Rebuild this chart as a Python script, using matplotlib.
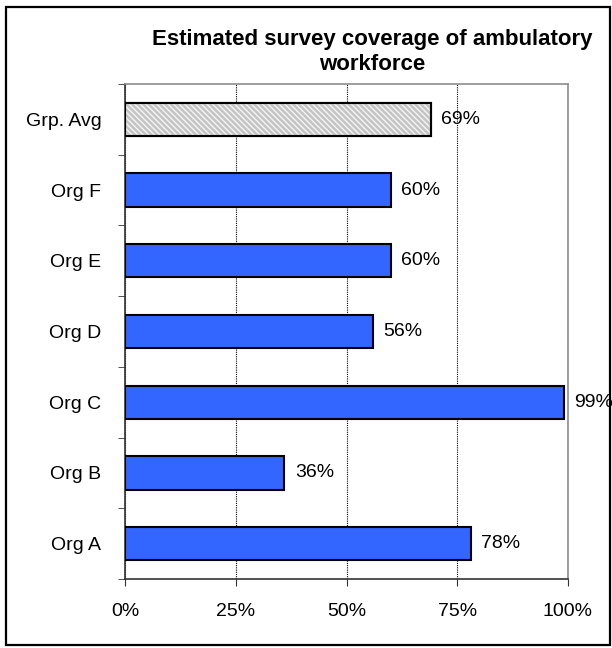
import matplotlib.pyplot as plt
from matplotlib.patches import Rectangle

plt.rcParams['font.family'] = ['Liberation Sans', 'DejaVu Sans']
plt.rcParams['hatch.linewidth'] = 1.8

# data (bottom to top)
orgs = ['Org A', 'Org B', 'Org C', 'Org D', 'Org E', 'Org F', 'Grp. Avg']
coverage = [78, 36, 99, 56, 60, 60, 69]
xticks = [0, 25, 50, 75, 100]

fig = plt.figure(figsize=(6.12, 6.48), dpi=100)
ax = fig.add_axes([125 / 612, 1 - 579 / 648, 443 / 612, 495 / 648])

ypos = list(range(len(orgs)))
colors = ['#3366ff'] * (len(orgs) - 1) + ['#f4f4f4']
ax.barh(ypos, coverage, height=0.47, color=colors,
        edgecolor='black', linewidth=1.5, zorder=3)
# hatched fill for the group average, drawn under a fresh outline
ax.barh(ypos[-1], coverage[-1], height=0.47, facecolor='none',
        edgecolor='#c4c4c4', linewidth=0, hatch='\\\\\\\\\\\\', zorder=3.5)
ax.barh(ypos[-1], coverage[-1], height=0.47, facecolor='none',
        edgecolor='black', linewidth=1.5, zorder=3.6)

for y, v in zip(ypos, coverage):
    ax.text(v + 2.4, y, f'{v}%', va='center', ha='left', fontsize=14, zorder=4)

ax.set_xlim(0, 100)
ax.set_ylim(-0.5, len(orgs) - 0.5)
ax.set_xticks(xticks)
ax.set_xticklabels([f'{t}%' for t in xticks], fontsize=14)
ax.tick_params(axis='x', direction='out', length=5, pad=12, color='#333333')

ax.set_yticks(ypos)
ax.set_yticklabels(orgs, fontsize=14)
ax.set_yticks([y - 0.5 for y in ypos] + [len(orgs) - 0.5], minor=True)
ax.tick_params(axis='y', which='major', length=0, pad=17)
ax.tick_params(axis='y', which='minor', direction='out', length=5, color='#333333')

ax.xaxis.grid(True, linestyle=(0, (1, 1)), color='black', linewidth=0.8, zorder=0)
ax.set_axisbelow(True)

ax.spines['left'].set_color('#333333')
ax.spines['bottom'].set_color('#333333')
ax.spines['left'].set_linewidth(1.2)
ax.spines['bottom'].set_linewidth(1.2)
ax.spines['top'].set_color('#8c8c8c')
ax.spines['right'].set_color('#8c8c8c')
ax.spines['top'].set_linewidth(1.2)
ax.spines['right'].set_linewidth(1.2)

fig.text(372 / 612, 1 - 52 / 648, 'Estimated survey coverage of ambulatory\nworkforce',
         ha='center', va='center', fontsize=16, fontweight='bold', linespacing=1.2)

# outer frame around the chart
fig.patches.append(Rectangle((6 / 612, 3 / 648), 604 / 612, 638 / 648,
                             transform=fig.transFigure, fill=False,
                             edgecolor='black', linewidth=1.6))

fig.savefig('out.png', dpi=100)
